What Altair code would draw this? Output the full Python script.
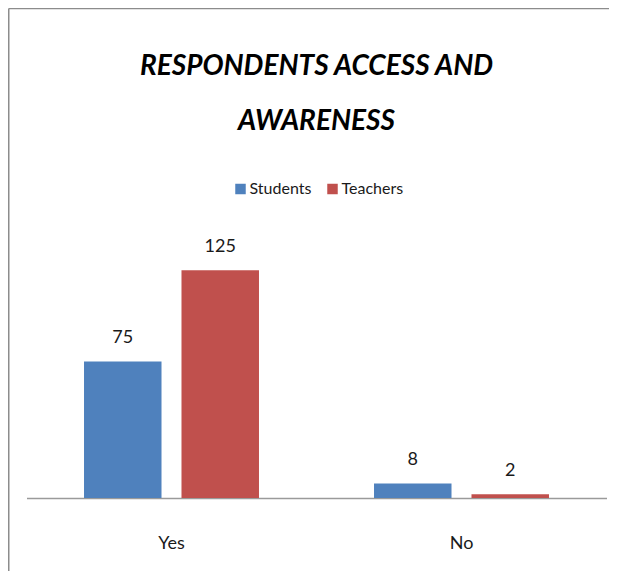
import altair as alt
import pandas as pd

categories = ["Yes", "No"]
series = ["Students", "Teachers"]
students = [75, 8]
teachers = [125, 2]
colors = ["#4F81BD", "#C0504D"]

rows = []
for i, c in enumerate(categories):
    rows.append({"answer": c, "group": "Students", "value": students[i]})
    rows.append({"answer": c, "group": "Teachers", "value": teachers[i]})
df = pd.DataFrame(rows)

FONT = "Lato"
W, H = 580, 255

x = alt.X("answer:N", sort=categories,
          scale=alt.Scale(paddingInner=0, paddingOuter=0),
          axis=alt.Axis(title=None, labelAngle=0, ticks=False, labelPadding=50,
                        labelBaseline="alphabetic", labelFontSize=18, labelFont=FONT,
                        labelColor="#1a1a1a", domainColor="#9a9a9a", domainWidth=1.5))
xo = alt.XOffset("group:N", sort=series,
                 scale=alt.Scale(paddingInner=0.205, paddingOuter=0.59))
y = alt.Y("value:Q", scale=alt.Scale(domain=[0, 140]), axis=None)

bars = alt.Chart(df).mark_bar().encode(
    x=x, xOffset=xo, y=y,
    color=alt.Color("group:N", sort=series,
                    scale=alt.Scale(domain=series, range=colors),
                    legend=alt.Legend(title=None, orient="none", direction="horizontal",
                                      legendX=206, legendY=-62, padding=0,
                                      symbolType="square", symbolSize=110,
                                      symbolStrokeWidth=0,
                                      labelFont=FONT, labelFontSize=16, labelColor="#1a1a1a",
                                      labelOffset=1, columnPadding=13)),
)

labels = alt.Chart(df).mark_text(font=FONT, fontSize=18, color="#1a1a1a",
                                 baseline="alphabetic", dy=-18).encode(
    x=x, xOffset=xo, y=y, text="value:Q")

border = pd.DataFrame({"k": [0]})
top_rule = alt.Chart(border).mark_rule(color="#8c8c8c", strokeWidth=1.5).encode(
    x=alt.value(-17.75), x2=alt.value(W + 2.5), y=alt.value(-234.5))
left_rule = alt.Chart(border).mark_rule(color="#8c8c8c", strokeWidth=1.5).encode(
    x=alt.value(-17.75), y=alt.value(-234.5), y2=alt.value(H + 73))

chart = alt.layer(bars, labels, top_rule, left_rule).properties(
    width=W, height=H,
    title=alt.TitleParams(["RESPONDENTS ACCESS AND", "AWARENESS"], font=FONT,
                          fontSize=28, fontWeight="bold", fontStyle="italic",
                          color="#000000", lineHeight=55, anchor="middle",
                          offset=0, dy=128),
    autosize=alt.AutoSizeParams(type="none"),
    padding={"left": 18.5, "top": 235, "right": 2.5, "bottom": 73},
).configure_view(stroke=None)

chart.save("out.html", embed_options={"renderer": "svg", "actions": False})
